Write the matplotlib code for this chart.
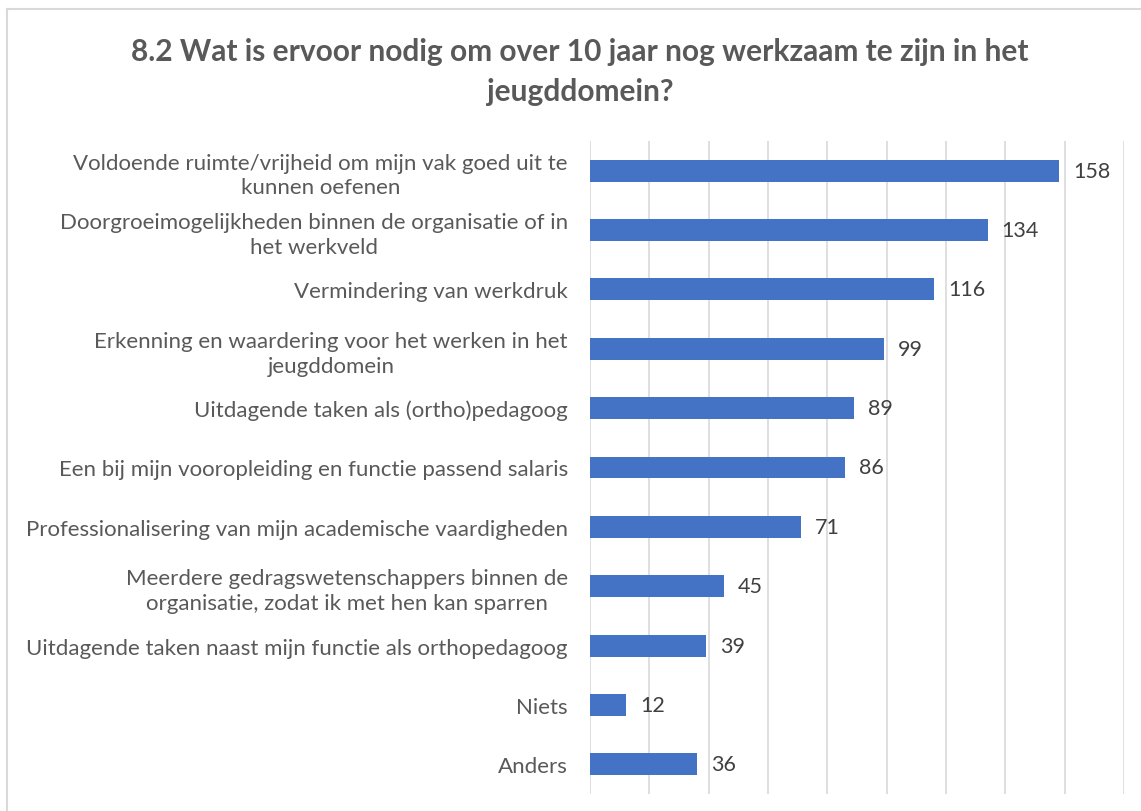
import matplotlib.pyplot as plt
from matplotlib.lines import Line2D

plt.rcParams['font.family'] = ['Lato', 'DejaVu Sans']

# data, top to bottom as in the chart
labels = [
    "Voldoende ruimte/vrijheid om mijn vak goed uit te\nkunnen oefenen",
    "Doorgroeimogelijkheden binnen de organisatie of in\nhet werkveld",
    "Vermindering van werkdruk",
    "Erkenning en waardering voor het werken in het\njeugddomein",
    "Uitdagende taken als (ortho)pedagoog",
    "Een bij mijn vooropleiding en functie passend salaris",
    "Professionalisering van mijn academische vaardigheden",
    "Meerdere gedragswetenschappers binnen de\norganisatie, zodat ik met hen kan sparren",
    "Uitdagende taken naast mijn functie als orthopedagoog",
    "Niets",
    "Anders",
]
counts = [158, 134, 116, 99, 89, 86, 71, 45, 39, 12, 36]
xticks = list(range(0, 181, 20))

fig = plt.figure(figsize=(11.41, 8.12), dpi=100)
ax = fig.add_axes([590/1141, 1-795/812, (1124-590)/1141, (795-142)/812])

pos = list(range(len(labels)))[::-1]
ax.barh(pos, counts, height=0.37, color='#4472C4', zorder=3)
for p, v in zip(pos, counts):
    ax.text(v + 4.8, p, str(v), va='center', ha='left', fontsize=15.5, color='#404040')

ax.set_xlim(0, 180)
ax.set_ylim(-0.5, len(labels) - 0.5)
ax.set_xticks(xticks)
ax.set_xticklabels([])
ax.set_yticks(pos)
ax.set_yticklabels(labels, fontsize=16, color='#595959', multialignment='center', linespacing=1.3)
ax.tick_params(axis='both', length=0)
ax.tick_params(axis='y', pad=16)
ax.grid(axis='x', color='#D9D9D9', linewidth=1.2, zorder=0)
for s in ax.spines.values():
    s.set_visible(False)

fig.text(580/1141, 1-72/812, "8.2 Wat is ervoor nodig om over 10 jaar nog werkzaam te zijn in het\njeugddomein?",
         ha='center', va='center', fontsize=21.5, fontweight='bold', color='#595959', linespacing=1.55)

# chart border (left and top edges visible)
fig.add_artist(Line2D([7/1141, 7/1141], [0, 1-10/812], transform=fig.transFigure, color='#D9D9D9', lw=1.5))
fig.add_artist(Line2D([7/1141, 1], [1-10/812, 1-10/812], transform=fig.transFigure, color='#D9D9D9', lw=1.5))

fig.savefig('out.png', dpi=100, facecolor='white')
